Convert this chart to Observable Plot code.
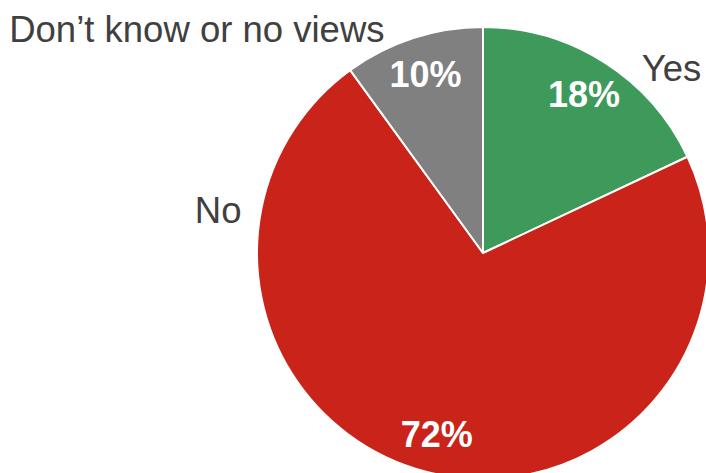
<!DOCTYPE html>
<html><head><meta charset="utf-8">
<script src="https://cdn.jsdelivr.net/npm/d3@7"></script>
<script src="https://cdn.jsdelivr.net/npm/@observablehq/plot@0.6"></script>
<style>html,body{margin:0;padding:0;background:#fff;}</style>
</head><body><div id="chart"></div>
<script>
// Data
const categories = ["Yes", "No", "Don\u2019t know or no views"];
const values = [18, 72, 10];
const valueLabels = ["18%", "72%", "10%"];
const colors = ["#3d9a5a", "#c9231a", "#808080"];

// Layout (pie units: radius = 1, center = 0,0)
const W = 706, H = 473;
const R = 226, CX = 483, CY = 253;
const pctRadius = 0.83;
const nameLayout = [
  {x: 0.700, y: 0.765, anchor: "start"},
  {x: -1.071, y: 0.137, anchor: "end"},
  {x: -0.438, y: 0.938, anchor: "end"}
];

const table = categories.map((c, i) => ({category: c, value: values[i], label: valueLabels[i], color: colors[i]}));
const arcs = d3.pie().sort(null).value(d => d.value).startAngle(0).endAngle(2 * Math.PI)(table);

const pctData = arcs.map(a => {
  const m = (a.startAngle + a.endAngle) / 2;
  return {x: pctRadius * Math.sin(m), y: pctRadius * Math.cos(m), text: a.data.label};
});
const nameData = table.map((d, i) => ({...nameLayout[i], text: d.category}));

function pieMark(...args) {
  const scales = args.find(a => a && typeof a.x === "function");
  const cx = scales.x(0), cy = scales.y(0), r = scales.x(1) - cx;
  const arc = d3.arc().innerRadius(0).outerRadius(r);
  const g = d3.create("svg:g").attr("transform", `translate(${cx},${cy})`);
  g.selectAll("path").data(arcs).join("path")
    .attr("d", arc)
    .attr("fill", d => d.data.color)
    .attr("stroke", "white")
    .attr("stroke-width", 2)
    .attr("stroke-linejoin", "round");
  return g.node();
}

const plot = Plot.plot({
  width: W, height: H,
  margin: 0,
  x: {domain: [-CX / R, (W - CX) / R], axis: null},
  y: {domain: [-(H - CY) / R, CY / R], axis: null},
  style: {fontFamily: "'Liberation Sans', Arial, sans-serif", background: "white", overflow: "hidden"},
  marks: [
    pieMark,
    Plot.text(pctData, {x: "x", y: "y", text: "text", fill: "white", fontSize: 36, fontWeight: "bold"}),
    Plot.text(nameData.filter(d => d.anchor === "start"), {x: "x", y: "y", text: "text", fill: "#404040", fontSize: 36.5, textAnchor: "start", lineAnchor: "bottom"}),
    Plot.text(nameData.filter(d => d.anchor === "end"), {x: "x", y: "y", text: "text", fill: "#404040", fontSize: 36.5, textAnchor: "end", lineAnchor: "bottom"})
  ]
});
document.getElementById("chart").appendChild(plot);
</script>
</body></html>
